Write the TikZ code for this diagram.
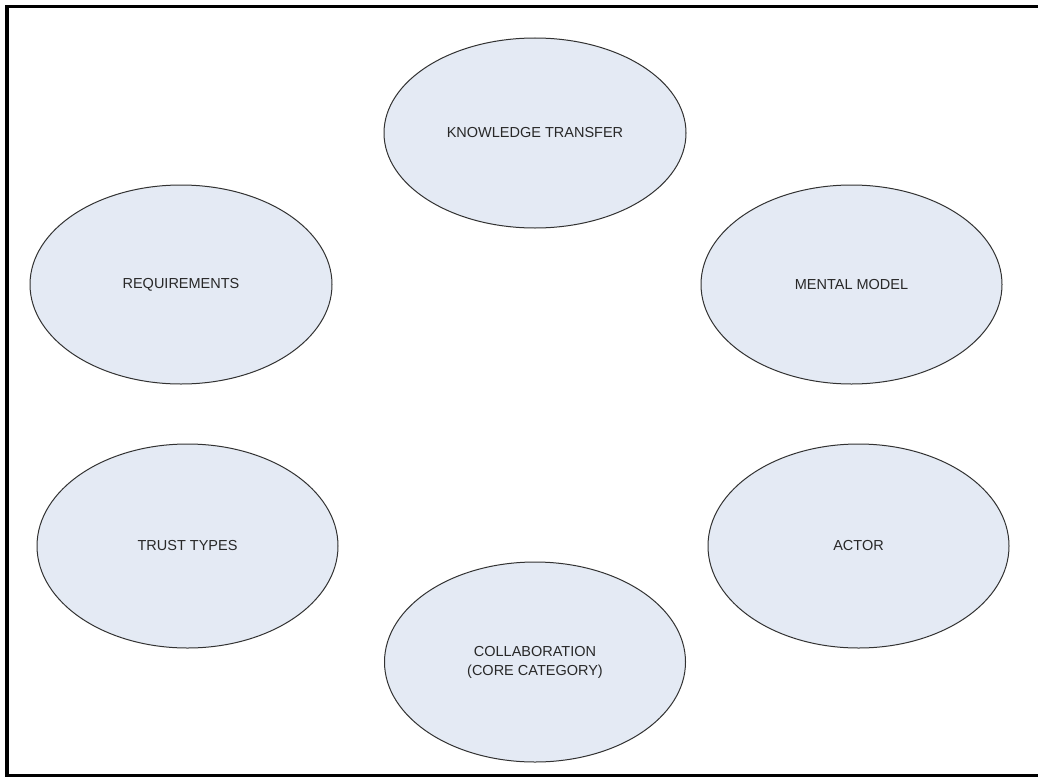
\documentclass[tikz,border=0pt]{standalone}
\usepackage{fontspec}
\setmainfont{Liberation Sans}
\usetikzlibrary{shapes.geometric}
\definecolor{bubblefill}{RGB}{228,234,244}
\definecolor{bubbleline}{RGB}{50,50,50}
\definecolor{labeltext}{RGB}{40,40,40}
\tikzset{
  bubble/.style={ellipse, draw=bubbleline, line width=1pt, fill=bubblefill,
    inner sep=0pt, align=center, text=labeltext,
    font=\fontsize{14.5}{19}\selectfont},
  frame/.style={line width=3.5pt, draw=black}
}
\begin{document}
\begin{tikzpicture}[x=1pt, y=-1pt]
  \clip (0,0) rectangle (1038,776);
  \fill[white] (0,0) rectangle (1038,776);
  % outer frame (right side runs off the page)
  \draw[frame] (7,6.5) rectangle (1060,775.5);

  \node[bubble, minimum width=302pt, minimum height=190pt] (kt) at (535,133) {KNOWLEDGE TRANSFER};
  \node[bubble, minimum width=302pt, minimum height=199pt] (req) at (181,284.5) {REQUIREMENTS};
  \node[bubble, minimum width=301pt, minimum height=199pt] (mm) at (851.5,284.5) {MENTAL MODEL};
  \node[bubble, minimum width=301pt, minimum height=204pt] (tt) at (187.5,546) {TRUST TYPES};
  \node[bubble, minimum width=301pt, minimum height=204pt] (act) at (858.5,546) {ACTOR};
  \node[bubble, minimum width=301pt, minimum height=200pt] (col) at (535,662) {COLLABORATION\\(CORE CATEGORY)};
\end{tikzpicture}
\end{document}
